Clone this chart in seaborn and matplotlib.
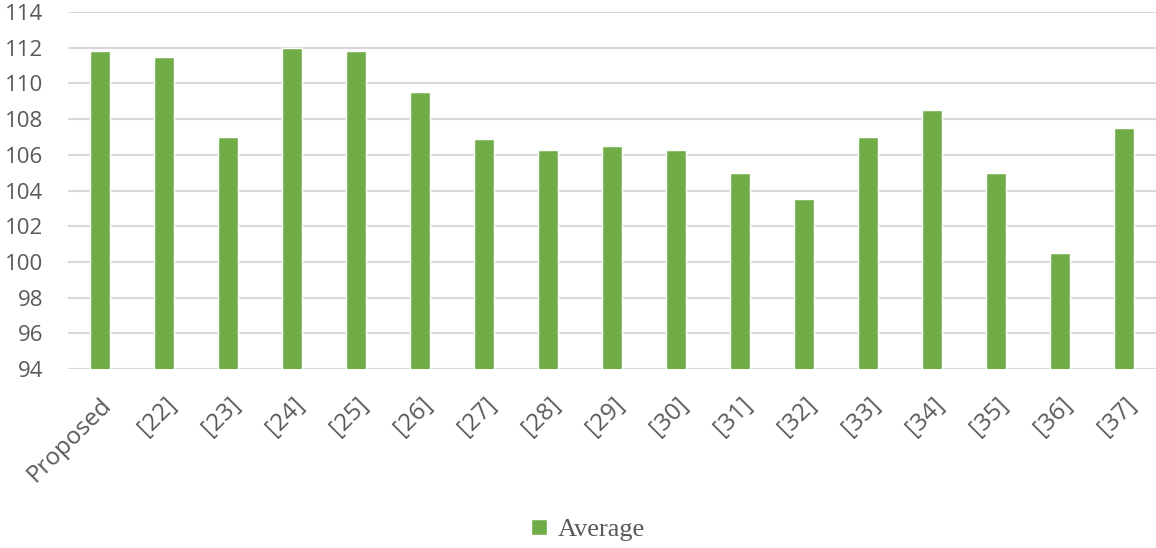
import pandas as pd
import matplotlib.pyplot as plt
import seaborn as sns

methods = ['Proposed', '[22]', '[23]', '[24]', '[25]', '[26]', '[27]', '[28]', '[29]',
           '[30]', '[31]', '[32]', '[33]', '[34]', '[35]', '[36]', '[37]']
average = [111.8, 111.5, 107.0, 112.0, 111.8, 109.5, 106.9, 106.25, 106.5,
           106.25, 105.0, 103.5, 107.0, 108.5, 105.0, 100.5, 107.5]
y_ticks = list(range(94, 115, 2))

df = pd.DataFrame({'method': methods, 'Average': average})

sns.set_theme(style="white")
plt.rcParams['font.family'] = ['Open Sans', 'DejaVu Sans']

fig = plt.figure(figsize=(11.56, 5.48), dpi=100)
ax = fig.add_axes([0.0588, 0.3266, 0.9412, 0.6515])

sns.barplot(x='method', y='Average', data=df, color='#70AD47', width=0.31,
            saturation=1, label='Average', ax=ax, zorder=3)

ax.set_ylim(94, 114)
ax.set_xlim(-0.5, len(methods) - 0.5)
ax.set_yticks(y_ticks)
ax.yaxis.grid(True, color='#d9d9d9', linewidth=1.5, zorder=0)
ax.set_axisbelow(True)
sns.despine(left=True, bottom=True, top=True, right=True)

ax.set_xlabel('')
ax.set_ylabel('')
ax.tick_params(axis='both', length=0, labelcolor='#595959')
ax.tick_params(axis='y', pad=18, labelsize=16)
ax.tick_params(axis='x', pad=17, labelsize=17.5)
for lbl in ax.get_xticklabels():
    lbl.set_rotation(45)
    lbl.set_ha('right')
    lbl.set_rotation_mode('anchor')

# legenda centrada abajo del grafico
leg = ax.legend(loc='center', bbox_to_anchor=(0.478, -0.451),
                frameon=False, handlelength=0.6, handleheight=0.6, handletextpad=0.4,
                prop={'family': 'Liberation Serif', 'size': 19})
for t in leg.get_texts():
    t.set_color('#595959')

plt.savefig('out.png', dpi=100)
plt.close()
